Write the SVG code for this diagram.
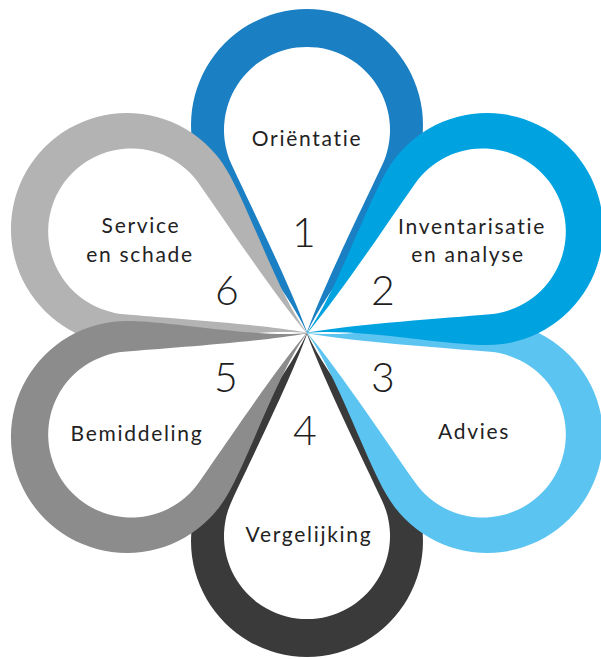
<svg xmlns="http://www.w3.org/2000/svg" xmlns:xlink="http://www.w3.org/1999/xlink" width="601" height="659" viewBox="0 0 601 659">
  <style>
    .lbl { font-family: Lato, "Open Sans", "Liberation Sans", sans-serif; font-size: 21px; fill: #222222; text-anchor: middle; letter-spacing: 1.7px; }
    .num { font-family: Lato, "Open Sans", "Liberation Sans", sans-serif; font-size: 41px; font-weight: 300; fill: #1e1e1e; text-anchor: middle; }
    .in { fill: #ffffff; }
  </style>
  <defs>
    <path id="outer" d="M0,0 C20.3,-45.7 78,-111 100.5,-150 A116,116 0 1 0 -100.5,-150 C-78,-111 -20.3,-45.7 0,0 Z"/>
    <path id="inner" d="M0,-1 C17.1,-48 56.2,-127.1 75.2,-167.9 A83,83 0 1 0 -75.2,-167.9 C-56.2,-127.1 -17.1,-48 0,-1 Z"/>
  </defs>
  <rect width="601" height="659" fill="#ffffff"/>
  <g id="connectors"/>
  <g id="petal-1">
    <use xlink:href="#outer" fill="#1b7fc3" transform="translate(307,333) rotate(0)"/>
    <use xlink:href="#inner" class="in" transform="translate(307,333) rotate(0)"/>
    <text class="lbl" x="307" y="146">Oriëntatie</text>
    <text class="num" x="304" y="247">1</text>
  </g>
  <g id="petal-4">
    <use xlink:href="#outer" fill="#3a3a3a" transform="translate(307,333) rotate(180)"/>
    <use xlink:href="#inner" class="in" transform="translate(307,333) rotate(180)"/>
    <text class="lbl" x="309" y="542">Vergelijking</text>
    <text class="num" x="305" y="445">4</text>
  </g>
  <g id="petal-3">
    <use xlink:href="#outer" fill="#5bc4f1" transform="translate(307,333) rotate(120)"/>
    <use xlink:href="#inner" class="in" transform="translate(307,333) rotate(120)"/>
    <text class="lbl" x="474" y="439">Advies</text>
    <text class="num" x="383" y="392">3</text>
  </g>
  <g id="petal-6">
    <use xlink:href="#outer" fill="#b3b3b3" transform="translate(307,333) rotate(300)"/>
    <use xlink:href="#inner" class="in" transform="translate(307,333) rotate(300)"/>
    <text class="lbl" x="141" y="233">Service</text>
    <text class="lbl" x="140" y="262">en schade</text>
    <text class="num" x="227" y="305">6</text>
  </g>
  <g id="petal-2">
    <use xlink:href="#outer" fill="#00a3e0" transform="translate(307,333) rotate(60)"/>
    <use xlink:href="#inner" class="in" transform="translate(307,333) rotate(60)"/>
    <text class="lbl" x="472" y="234">Inventarisatie</text>
    <text class="lbl" x="468" y="262">en analyse</text>
    <text class="num" x="383" y="305">2</text>
  </g>
  <g id="petal-5">
    <use xlink:href="#outer" fill="#8c8c8c" transform="translate(307,333) rotate(240)"/>
    <use xlink:href="#inner" class="in" transform="translate(307,333) rotate(240)"/>
    <text class="lbl" x="137" y="441">Bemiddeling</text>
    <text class="num" x="226" y="392">5</text>
  </g>
</svg>
